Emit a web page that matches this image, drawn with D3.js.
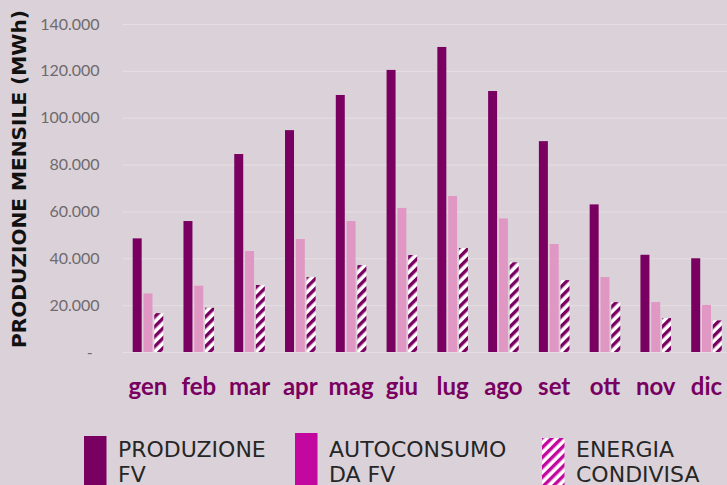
<!DOCTYPE html>
<html>
<head>
<meta charset="utf-8">
<script src="https://cdn.jsdelivr.net/npm/d3@7"></script>
<style>
	body { margin: 0; background: #dbd2d9; }
	svg { display: block; }
</style>
</head>
<body>
<svg id="chart" width="727" height="485"></svg>
<script>
// data (MWh)
const months = ['gen', 'feb', 'mar', 'apr', 'mag', 'giu', 'lug', 'ago', 'set', 'ott', 'nov', 'dic'];
const produzione = [48500, 55900, 84500, 94700, 109700, 120400, 130200, 111400, 90000, 63000, 41500, 40000];
const autoconsumo = [25000, 28300, 43100, 48200, 55900, 61500, 66600, 57000, 46100, 32000, 21300, 20100];
const condivisa = [16600, 18900, 28600, 32000, 37100, 41400, 44400, 38300, 30700, 21300, 14500, 13500];
const yTicks = [0, 20000, 40000, 60000, 80000, 100000, 120000, 140000];
const seriesNames = ['PRODUZIONE', 'AUTOCONSUMO', 'ENERGIA'];
const legendLines = [['PRODUZIONE', 'FV'], ['AUTOCONSUMO', 'DA FV'], ['ENERGIA', 'CONDIVISA']];

const svg = d3.select('#chart');
const W = 727, H = 485;

const plotLeft = 122.6, plotRight = 731.9, plotTop = 24, plotBottom = 352;

const dark = '#790060', pink = '#e097c3', magenta = '#c2089f';

svg.append('rect').attr('width', W).attr('height', H).attr('fill', '#dbd2d9');

// hatch patterns
const defs = svg.append('defs');
function hatch(id, color) {
	const p = defs.append('pattern')
		.attr('id', id)
		.attr('patternUnits', 'userSpaceOnUse')
		.attr('width', 7).attr('height', 7)
		.attr('patternTransform', 'rotate(45)');
	p.append('rect').attr('width', 7).attr('height', 7).attr('fill', '#fff');
	p.append('rect').attr('width', 3.4).attr('height', 7).attr('fill', color);
}
hatch('hatchBar', dark);
hatch('hatchLeg', magenta);

const rows = months.map((m, i) => ({ month: m, values: [produzione[i], autoconsumo[i], condivisa[i]] }));

const x0 = d3.scaleBand()
	.domain(months)
	.range([plotLeft, plotRight])
	.padding(0);

const inner = 30.6;
const x1 = d3.scaleBand()
	.domain(seriesNames)
	.range([(x0.bandwidth() - inner) / 2, (x0.bandwidth() + inner) / 2])
	.paddingInner(0.167);

const y = d3.scaleLinear()
	.domain([0, 140000])
	.range([plotBottom, plotTop]);

const itLocale = d3.formatLocale({ decimal: ',', thousands: '.', grouping: [3], currency: ['', ''] });
const fmt = itLocale.format(',');

// y axis + gridlines
const yAxis = d3.axisLeft(y)
	.tickValues(yTicks)
	.tickSizeInner(-(W - plotLeft))
	.tickSizeOuter(0)
	.tickPadding(23)
	.tickFormat(d => d === 0 ? '-' : fmt(d));

const gy = svg.append('g')
	.attr('transform', `translate(${plotLeft},0)`)
	.call(yAxis);
gy.select('.domain').remove();
gy.selectAll('.tick line').attr('stroke', '#e5dfe3').attr('stroke-width', 1);
gy.selectAll('.tick text')
	.attr('fill', '#6e6a6d')
	.style('font', '16px Lato, sans-serif');
gy.selectAll('.tick text').filter(d => d === 0).attr('dx', -7);

// bars
const fills = [dark, pink, 'url(#hatchBar)'];
const groups = svg.append('g').selectAll('g')
	.data(rows)
	.join('g')
	.attr('transform', d => `translate(${x0(d.month)},0)`);

groups.selectAll('rect')
	.data(d => d.values.map((v, i) => ({ key: seriesNames[i], value: v, i })))
	.join('rect')
	.attr('x', d => x1(d.key))
	.attr('y', d => y(d.value))
	.attr('width', x1.bandwidth())
	.attr('height', d => y(0) - y(d.value))
	.attr('fill', d => fills[d.i]);

// month labels
const xAxis = d3.axisBottom(x0).tickSize(0).tickPadding(0);
const gx = svg.append('g')
	.attr('transform', `translate(0,${plotBottom})`)
	.call(xAxis);
gx.select('.domain').remove();
gx.selectAll('.tick text')
	.attr('y', 43)
	.attr('dy', 0)
	.attr('fill', dark)
	.style('font', 'bold 24px Lato, sans-serif');

// y axis title
svg.append('text')
	.attr('transform', 'translate(26,179) rotate(-90)')
	.attr('text-anchor', 'middle')
	.attr('textLength', 338)
	.attr('lengthAdjust', 'spacingAndGlyphs')
	.style('font', 'bold 20px "DejaVu Sans", sans-serif')
	.attr('fill', '#111')
	.text('PRODUZIONE MENSILE (MWh)');

// legend
const legendX = [84, 295, 542];
const legendTop = [436, 433, 438];
const legendFill = [dark, magenta, 'url(#hatchLeg)'];
const leg = svg.append('g').selectAll('g')
	.data(legendLines)
	.join('g')
	.attr('transform', (d, i) => `translate(${legendX[i]},0)`);

leg.append('rect')
	.attr('x', 0)
	.attr('y', (d, i) => legendTop[i])
	.attr('width', 22.5)
	.attr('height', 60)
	.attr('fill', (d, i) => legendFill[i]);

leg.append('text')
	.attr('x', 34)
	.attr('y', 457)
	.attr('fill', '#262626')
	.style('font', '22px "DejaVu Sans", sans-serif')
	.selectAll('tspan')
	.data(d => d)
	.join('tspan')
	.attr('x', 34)
	.attr('dy', (d, i) => i === 0 ? 0 : 25)
	.text(d => d);
</script>
</body>
</html>
